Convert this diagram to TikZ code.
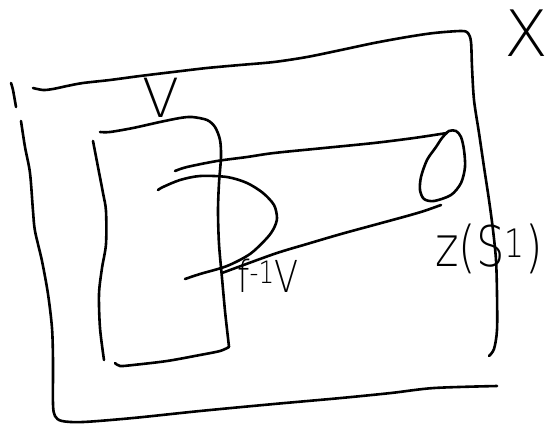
\documentclass[tikz,border=0pt]{standalone}
\usepackage{fontspec}
% a thin sans face for the pen-written labels, falling back to a heavier one
\IfFontExistsTF{DejaVuSans-ExtraLight.ttf}
  {\newfontfamily\hand{DejaVuSans-ExtraLight.ttf}}
  {\IfFontExistsTF{FiraSans-Light.otf}
    {\newfontfamily\hand{FiraSans-Light.otf}}
    {\newfontfamily\hand{Fira Sans}}}
\begin{document}
\begin{tikzpicture}[x=1pt,y=-1pt,
  ink/.style={line width=2.6pt, line cap=round, line join=round},
  lbl/.style={inner sep=0pt}]
\useasboundingbox (0,0) rectangle (548,423);

% outer space: top edge running into the right edge
\draw[ink] plot[smooth] coordinates {(33,88) (43,90) (53,89) (67,86) (83,83) (110,80)
  (140,76) (173,72) (207,68) (240,65) (274,62) (307,57) (341,50) (374,43) (407,37)
  (434,33) (461,31) (468,33) (471,42) (472,67) (474,100) (479,133) (484,167) (489,200)
  (493,230) (496,260) (497,294) (497,330) (494,349) (489,356)};
% small stroke at the upper left
\draw[ink] plot[smooth] coordinates {(11,83) (13,90) (16,107)};
% left edge running into the bottom edge
\draw[ink] plot[smooth] coordinates {(21,121) (25,147) (30,173) (33,211) (35,231)
  (42,261) (48,294) (52,328) (53,361) (53,404) (55,416) (62,421) (83,422) (133,418)
  (200,411) (274,404) (341,398) (391,393) (434,388) (497,386)};

% the set V
\draw[ink] plot[smooth] coordinates {(100,132) (110,132) (133,128) (160,122) (180,118)
  (192,117) (207,120) (215,127) (220,140) (221,157) (219,183) (218,211) (219,244)
  (222,278) (225,311) (228,338) (229,347)};
\draw[ink] plot[smooth] coordinates {(229,347) (220,351) (200,355) (167,361) (133,365)
  (120,366) (115,363)};
\draw[ink] plot[smooth] coordinates {(93,141) (98,167) (103,193) (106,211) (106,244)
  (102,268) (99,294) (100,328) (104,360)};

% the loop and the tube joining it to V
\draw[ink] plot[smooth] coordinates {(175,171) (187,167) (217,161) (247,157) (274,153)
  (324,148) (374,143) (414,138) (447,133)};
\draw[ink] plot[smooth cycle] coordinates {(449,131) (456,131) (461,137) (464,150)
  (465,167) (461,183) (451,195) (434,201) (424,199) (420,190) (421,177) (427,160)
  (436,147) (442,138)};
\draw[ink] plot[smooth] coordinates {(222,273) (274,254) (307,244) (341,234) (374,225)
  (407,216) (424,211) (441,205)};
\draw[ink] plot[smooth] coordinates {(158,190) (163,187) (180,180) (200,176) (227,177)
  (247,183) (263,193) (274,205) (277,218) (274,228) (267,238) (250,254) (227,266)
  (200,274) (185,279)};

% labels
\node[lbl, font=\hand\fontsize{64}{64}\selectfont] (spaceX) at (526,33) {X};
\node[lbl, font=\hand\fontsize{54}{54}\selectfont] (setV) at (161,98) {V};
\node[lbl, xscale=0.8, font=\hand\fontsize{44}{44}\selectfont] (preimage) at (268,276) {f\textsuperscript{-1}V};
\node[lbl, xscale=0.8, font=\hand\fontsize{56}{56}\selectfont] (image) at (489,249) {z(S\textsuperscript{1})};
\end{tikzpicture}
\end{document}
